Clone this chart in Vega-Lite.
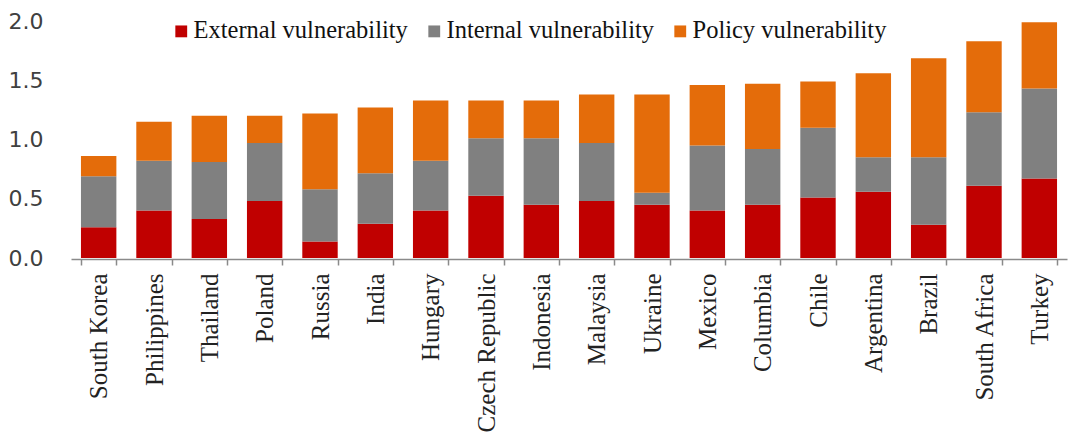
{
  "$schema": "https://vega.github.io/schema/vega-lite/v6.json",
  "width": 996,
  "height": 237,
  "autosize": "none",
  "padding": {"left": 71, "top": 21, "right": 11, "bottom": 183},
  "background": "white",
  "data": {
    "values": [
      {"country": "South Korea", "component": "External vulnerability", "k": 1, "value": 0.26},
      {"country": "South Korea", "component": "Internal vulnerability", "k": 2, "value": 0.43},
      {"country": "South Korea", "component": "Policy vulnerability", "k": 3, "value": 0.17},
      {"country": "Philippines", "component": "External vulnerability", "k": 1, "value": 0.40},
      {"country": "Philippines", "component": "Internal vulnerability", "k": 2, "value": 0.42},
      {"country": "Philippines", "component": "Policy vulnerability", "k": 3, "value": 0.33},
      {"country": "Thailand", "component": "External vulnerability", "k": 1, "value": 0.33},
      {"country": "Thailand", "component": "Internal vulnerability", "k": 2, "value": 0.48},
      {"country": "Thailand", "component": "Policy vulnerability", "k": 3, "value": 0.39},
      {"country": "Poland", "component": "External vulnerability", "k": 1, "value": 0.48},
      {"country": "Poland", "component": "Internal vulnerability", "k": 2, "value": 0.49},
      {"country": "Poland", "component": "Policy vulnerability", "k": 3, "value": 0.23},
      {"country": "Russia", "component": "External vulnerability", "k": 1, "value": 0.14},
      {"country": "Russia", "component": "Internal vulnerability", "k": 2, "value": 0.44},
      {"country": "Russia", "component": "Policy vulnerability", "k": 3, "value": 0.64},
      {"country": "India", "component": "External vulnerability", "k": 1, "value": 0.29},
      {"country": "India", "component": "Internal vulnerability", "k": 2, "value": 0.425},
      {"country": "India", "component": "Policy vulnerability", "k": 3, "value": 0.555},
      {"country": "Hungary", "component": "External vulnerability", "k": 1, "value": 0.40},
      {"country": "Hungary", "component": "Internal vulnerability", "k": 2, "value": 0.42},
      {"country": "Hungary", "component": "Policy vulnerability", "k": 3, "value": 0.51},
      {"country": "Czech Republic", "component": "External vulnerability", "k": 1, "value": 0.525},
      {"country": "Czech Republic", "component": "Internal vulnerability", "k": 2, "value": 0.485},
      {"country": "Czech Republic", "component": "Policy vulnerability", "k": 3, "value": 0.32},
      {"country": "Indonesia", "component": "External vulnerability", "k": 1, "value": 0.45},
      {"country": "Indonesia", "component": "Internal vulnerability", "k": 2, "value": 0.56},
      {"country": "Indonesia", "component": "Policy vulnerability", "k": 3, "value": 0.32},
      {"country": "Malaysia", "component": "External vulnerability", "k": 1, "value": 0.48},
      {"country": "Malaysia", "component": "Internal vulnerability", "k": 2, "value": 0.49},
      {"country": "Malaysia", "component": "Policy vulnerability", "k": 3, "value": 0.41},
      {"country": "Ukraine", "component": "External vulnerability", "k": 1, "value": 0.45},
      {"country": "Ukraine", "component": "Internal vulnerability", "k": 2, "value": 0.10},
      {"country": "Ukraine", "component": "Policy vulnerability", "k": 3, "value": 0.83},
      {"country": "Mexico", "component": "External vulnerability", "k": 1, "value": 0.40},
      {"country": "Mexico", "component": "Internal vulnerability", "k": 2, "value": 0.55},
      {"country": "Mexico", "component": "Policy vulnerability", "k": 3, "value": 0.51},
      {"country": "Columbia", "component": "External vulnerability", "k": 1, "value": 0.45},
      {"country": "Columbia", "component": "Internal vulnerability", "k": 2, "value": 0.47},
      {"country": "Columbia", "component": "Policy vulnerability", "k": 3, "value": 0.55},
      {"country": "Chile", "component": "External vulnerability", "k": 1, "value": 0.51},
      {"country": "Chile", "component": "Internal vulnerability", "k": 2, "value": 0.59},
      {"country": "Chile", "component": "Policy vulnerability", "k": 3, "value": 0.39},
      {"country": "Argentina", "component": "External vulnerability", "k": 1, "value": 0.56},
      {"country": "Argentina", "component": "Internal vulnerability", "k": 2, "value": 0.29},
      {"country": "Argentina", "component": "Policy vulnerability", "k": 3, "value": 0.71},
      {"country": "Brazil", "component": "External vulnerability", "k": 1, "value": 0.28},
      {"country": "Brazil", "component": "Internal vulnerability", "k": 2, "value": 0.57},
      {"country": "Brazil", "component": "Policy vulnerability", "k": 3, "value": 0.835},
      {"country": "South Africa", "component": "External vulnerability", "k": 1, "value": 0.61},
      {"country": "South Africa", "component": "Internal vulnerability", "k": 2, "value": 0.62},
      {"country": "South Africa", "component": "Policy vulnerability", "k": 3, "value": 0.60},
      {"country": "Turkey", "component": "External vulnerability", "k": 1, "value": 0.67},
      {"country": "Turkey", "component": "Internal vulnerability", "k": 2, "value": 0.76},
      {"country": "Turkey", "component": "Policy vulnerability", "k": 3, "value": 0.56}
    ]
  },
  "mark": {"type": "bar"},
  "encoding": {
    "x": {
      "field": "country",
      "type": "nominal",
      "sort": ["South Korea", "Philippines", "Thailand", "Poland", "Russia", "India", "Hungary", "Czech Republic", "Indonesia", "Malaysia", "Ukraine", "Mexico", "Columbia", "Chile", "Argentina", "Brazil", "South Africa", "Turkey"],
      "scale": {"paddingInner": 0.36, "paddingOuter": 0.18},
      "axis": {
        "title": null,
        "labelAngle": -90,
        "labelFont": "Liberation Serif",
        "labelFontSize": 25,
        "labelColor": "#222222",
        "labelPadding": 8,
        "labelLimit": 300,
        "domainColor": "#8a8a8a",
        "domainWidth": 1.5,
        "tickColor": "#8a8a8a",
        "tickWidth": 1.5,
        "tickSize": 6,
        "tickBand": "extent",
        "offset": 1
      }
    },
    "y": {
      "field": "value",
      "type": "quantitative",
      "stack": "zero",
      "scale": {"domain": [0, 2], "nice": false},
      "axis": {
        "title": null,
        "values": [0, 0.5, 1, 1.5, 2],
        "format": ".1f",
        "labelFont": "DejaVu Sans",
        "labelFontSize": 22,
        "labelColor": "#404040",
        "labelPadding": 28,
        "domain": false,
        "ticks": false,
        "grid": false
      }
    },
    "color": {
      "field": "component",
      "type": "nominal",
      "scale": {
        "domain": ["External vulnerability", "Internal vulnerability", "Policy vulnerability"],
        "range": ["#C00000", "#808080", "#E46C0A"]
      },
      "legend": {
        "title": null,
        "orient": "none",
        "direction": "horizontal",
        "legendX": 98,
        "legendY": -2,
        "symbolType": "square",
        "symbolSize": 140,
        "symbolStrokeWidth": 0,
        "labelFont": "Liberation Serif",
        "labelFontSize": 24.5,
        "labelColor": "#111111",
        "labelLimit": 400,
        "labelOffset": 0,
        "columnPadding": 14
      }
    },
    "order": {"field": "k", "type": "quantitative"}
  },
  "config": {"view": {"stroke": null}}
}
